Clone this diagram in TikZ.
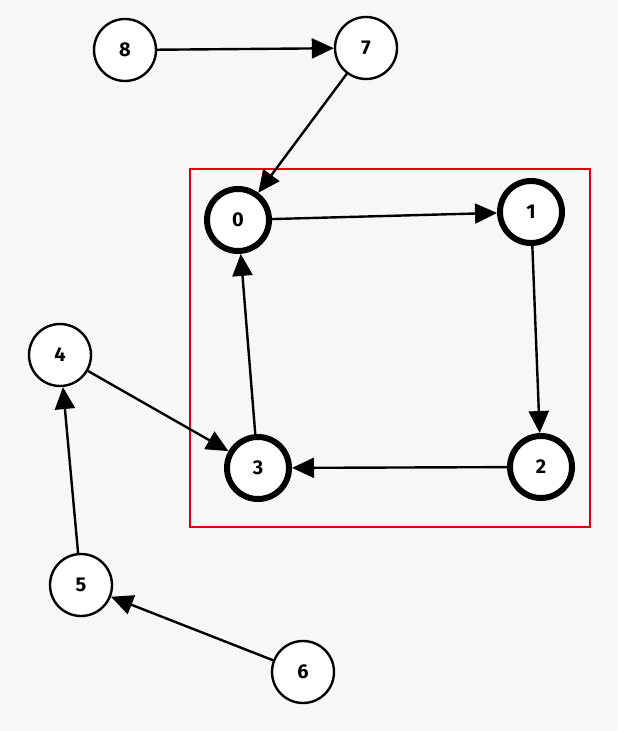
\documentclass[tikz,border=0pt]{standalone}
\usepackage{fontspec}
\setmainfont{Fira Sans}
\usetikzlibrary{arrows.meta}
\tikzset{
  vert/.style={draw, circle, fill=white, line width=1.2pt, minimum size=31pt, inner sep=0pt, font=\bfseries},
  cyc/.style={vert, line width=3pt},
  edge/.style={-{Triangle[length=11pt, width=10pt]}, line width=1.2pt}
}
\begin{document}
\begin{tikzpicture}[x=0.5pt, y=-0.5pt]
  \fill[black!3] (0,0) rectangle (617,731);
  \useasboundingbox (0,0) rectangle (617,731);
  % cycle frame
  \draw[red!90!black, line width=1.2pt] (190,169) rectangle (590,527);
  % vertices
  \node[cyc] (n0) at (238,220) {0};
  \node[cyc] (n1) at (531,212) {1};
  \node[cyc] (n2) at (541,467) {2};
  \node[cyc] (n3) at (258,468) {3};
  \node[vert] (n4) at (60,355) {4};
  \node[vert] (n5) at (81,585) {5};
  \node[vert] (n6) at (303,672) {6};
  \node[vert] (n7) at (366,48) {7};
  \node[vert] (n8) at (125,50) {8};
  % edges
  \draw[edge] (n8) -- (n7);
  \draw[edge] (n7) -- (n0);
  \draw[edge] (n0) -- (n1);
  \draw[edge] (n1) -- (n2);
  \draw[edge] (n2) -- (n3);
  \draw[edge] (n3) -- (n0);
  \draw[edge] (n4) -- (n3);
  \draw[edge] (n5) -- (n4);
  \draw[edge] (n6) -- (n5);
\end{tikzpicture}
\end{document}
